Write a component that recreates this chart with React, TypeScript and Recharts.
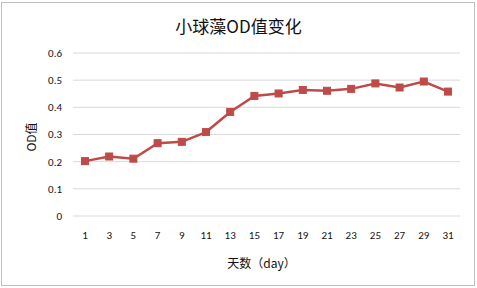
import { LineChart, Line, XAxis, YAxis, CartesianGrid } from 'recharts';

const days = ['1', '3', '5', '7', '9', '11', '13', '15', '17', '19', '21', '23', '25', '27', '29', '31'];
const odValues = [0.202, 0.219, 0.211, 0.268, 0.273, 0.309, 0.383, 0.442, 0.451, 0.464, 0.461, 0.468, 0.488, 0.473, 0.495, 0.458];
const yTicks = [0, 0.1, 0.2, 0.3, 0.4, 0.5, 0.6];

const data = days.map((day, i) => ({ day, od: odValues[i] }));

const FONT = 'Carlito, Calibri, "Liberation Sans", "Noto Sans CJK SC", sans-serif';
const CJK = '"Noto Sans CJK SC", sans-serif';

function SquareDot(props: any) {
  const { cx, cy } = props;
  if (cx == null || cy == null) return null;
  return <rect x={cx - 3.5} y={cy - 3.5} width={7} height={7} fill="#be4b48" stroke="#be4b48" />;
}

export default function App() {
  return (
    <div style={{ position: 'absolute', left: 0, top: 0, width: 477, height: 288, background: '#fff' }}>
      <div
        style={{
          position: 'absolute',
          left: 1,
          top: 2,
          width: 472,
          height: 282,
          border: '1px solid #bfbfbf',
        }}
      />
      <div
        style={{
          position: 'absolute',
          left: 0,
          top: 13,
          width: 477,
          textAlign: 'center',
          fontFamily: CJK,
          fontSize: 17,
          color: '#111',
        }}
      >
        小球藻OD值变化
      </div>
      <div
        style={{
          position: 'absolute',
          left: 0,
          top: 254,
          width: 523,
          textAlign: 'center',
          fontFamily: CJK,
          fontSize: 12,
          color: '#111',
        }}
      >
        天数（day）
      </div>
      <div
        style={{
          position: 'absolute',
          left: 30,
          top: 137,
          transform: 'translate(-50%, -50%) rotate(-90deg)',
          fontFamily: CJK,
          fontSize: 12,
          color: '#111',
          whiteSpace: 'nowrap',
        }}
      >
        OD值
      </div>
      <LineChart
        width={477}
        height={288}
        data={data}
        margin={{ top: 53, right: 17, left: 28, bottom: 42 }}
        style={{ position: 'absolute', left: 0, top: 0 }}
      >
        <CartesianGrid vertical={false} stroke="#d9d9d9" strokeWidth={1} />
        <XAxis
          dataKey="day"
          axisLine={false}
          tickLine={false}
          tickSize={0}
          tickMargin={15}
          height={30}
          interval={0}
          padding={{ left: 12, right: 12 }}
          tick={{ fontSize: 11, fill: '#111', fontFamily: FONT }}
        />
        <YAxis
          domain={[0, 0.6]}
          ticks={yTicks}
          axisLine={false}
          tickLine={false}
          tickSize={0}
          tickMargin={11}
          width={45}
          interval={0}
          tick={{ fontSize: 11, fill: '#111', fontFamily: FONT }}
        />
        <Line
          type="linear"
          dataKey="od"
          stroke="#be4b48"
          strokeWidth={2.5}
          dot={<SquareDot />}
          activeDot={false}
          isAnimationActive={false}
        />
      </LineChart>
    </div>
  );
}
